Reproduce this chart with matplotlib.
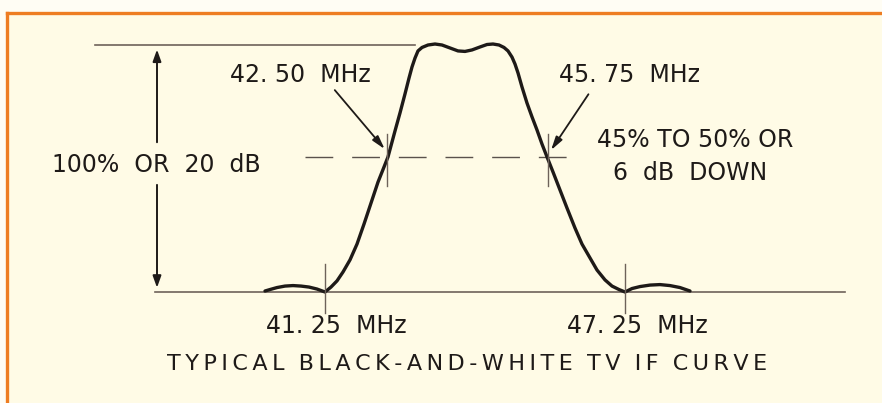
import matplotlib
matplotlib.use("Agg")
import matplotlib.pyplot as plt
from matplotlib.patches import Rectangle
from matplotlib.lines import Line2D

# IF response curve, frequency in MHz vs relative response in percent
freq = [40.05, 40.15, 40.29, 40.45, 40.61, 40.77, 40.93, 41.09, 41.25,
        41.37, 41.49, 41.61, 41.75, 41.89, 42.03, 42.17, 42.31, 42.43, 42.51,
        42.65, 42.75, 42.85, 42.93, 42.99, 43.05, 43.11, 43.19, 43.31, 43.45,
        43.59, 43.75, 43.91, 44.05, 44.19, 44.35, 44.49, 44.61, 44.73, 44.83,
        44.91, 44.99, 45.05, 45.11, 45.19, 45.29, 45.39, 45.49, 45.59, 45.69,
        45.81, 45.95, 46.09, 46.25, 46.39, 46.55, 46.69, 46.85, 46.99, 47.13,
        47.25, 47.39, 47.55, 47.75, 47.95, 48.15, 48.35, 48.55]
resp = [0.4, 1.0, 1.8, 2.4, 2.6, 2.4, 2.0, 1.2, 0.0,
        2.0, 4.5, 8.1, 13.0, 19.4, 27.5, 36.0, 44.5, 50.6, 54.7,
        65.2, 72.5, 80.2, 86.6, 91.1, 94.7, 97.6, 99.0, 100.0, 100.4,
        100.0, 98.8, 97.6, 97.4, 98.0, 99.2, 100.2, 100.4, 100.0, 99.0,
        97.6, 95.1, 92.3, 88.7, 83.0, 76.5, 70.9, 65.6, 59.9, 54.7,
        48.6, 41.3, 34.0, 25.9, 19.4, 13.8, 8.9, 4.9, 2.4, 1.0,
        0.0, 1.4, 2.2, 2.8, 3.0, 2.6, 1.8, 0.4]

carrier_marks = [41.25, 47.25]      # picture / sound carrier points
half_marks = [42.50, 45.70]         # 6 dB down crossings
half_level = 54.7
full_level = 100.0

ink = "#1e1a18"
rule = "#6e625a"
cream = "#fffbe6"

fig = plt.figure(figsize=(8.82, 4.03), dpi=100)
fig.patch.set_facecolor("#fffdf4")
fig.patches.append(Rectangle((0.008, 0), 1.0, 0.968, transform=fig.transFigure,
                             facecolor=cream, edgecolor="none", zorder=-10))
fig.lines.append(Line2D([0.008, 1.0], [0.968, 0.968], transform=fig.transFigure,
                        color="#ee7d22", lw=2.4, zorder=-5))
fig.lines.append(Line2D([0.008, 0.008], [0.0, 0.968], transform=fig.transFigure,
                        color="#ee7d22", lw=2.4, zorder=-5))

ax = fig.add_axes([0, 0, 1, 1])
ax.set_xlim(34.75, 52.39)
ax.set_ylim(-44.94, 118.22)
ax.axis("off")
ax.patch.set_alpha(0)

font = dict(family="DejaVu Sans", color=ink, fontsize=17, ha="center", va="center")

# reference lines: 100% level and baseline
ax.plot([36.65, 43.05], [full_level, full_level], color=rule, lw=1.2)
ax.plot([37.85, 51.65], [0, 0], color=rule, lw=1.2)

# dashed 6 dB down level
ax.plot([40.85, 46.45], [half_level, half_level], color="#5a524c", lw=1.0,
        dashes=(20, 13.6))

# response curve
ax.plot(freq, resp, color=ink, lw=2.4, solid_capstyle="round",
        solid_joinstyle="round")

# vertical ticks at the marked frequencies
for f in carrier_marks:
    ax.plot([f, f], [11.5, -8.5], color=rule, lw=1.0)
for f in half_marks:
    ax.plot([f, f], [64, 43], color=rule, lw=1.0)

# 100% double arrow, broken around its label
arr = dict(arrowstyle="-|>,head_width=0.25,head_length=0.7", color=ink, lw=1.4)
ax.annotate("", xy=(37.89, 99.3), xytext=(37.89, 59.5), arrowprops=arr)
ax.annotate("", xy=(37.89, 0.6), xytext=(37.89, 44.5), arrowprops=arr)

# leader arrows to the 6 dB points
lead = dict(arrowstyle="-|>,head_width=0.22,head_length=0.8", color=ink, lw=1.3)
ax.annotate("", xy=(42.48, 57.0), xytext=(41.41, 82.6), arrowprops=lead)
ax.annotate("", xy=(45.74, 56.5), xytext=(46.55, 81.0), arrowprops=lead)

ax.text(40.75, 87.9, "42. 50  MHz", **font)
ax.text(47.35, 87.9, "45. 75  MHz", **font)
ax.text(37.87, 51.4, "100%  OR  20  dB", **font)
ax.text(48.65, 61.5, "45% TO 50% OR", **font)
ax.text(48.55, 48.2, "6  dB  DOWN", **font)
ax.text(41.47, -13.8, "41. 25  MHz", **font)
ax.text(47.49, -13.8, "47. 25  MHz", **font)

title = "TYPICAL BLACK-AND-WHITE TV IF CURVE"
spaced = "  ".join("\u2009".join(word) for word in title.split(" "))
ax.text(44.09, -29.1, spaced, **dict(font, fontsize=16))

fig.savefig("out.png", dpi=100, facecolor=fig.get_facecolor())
